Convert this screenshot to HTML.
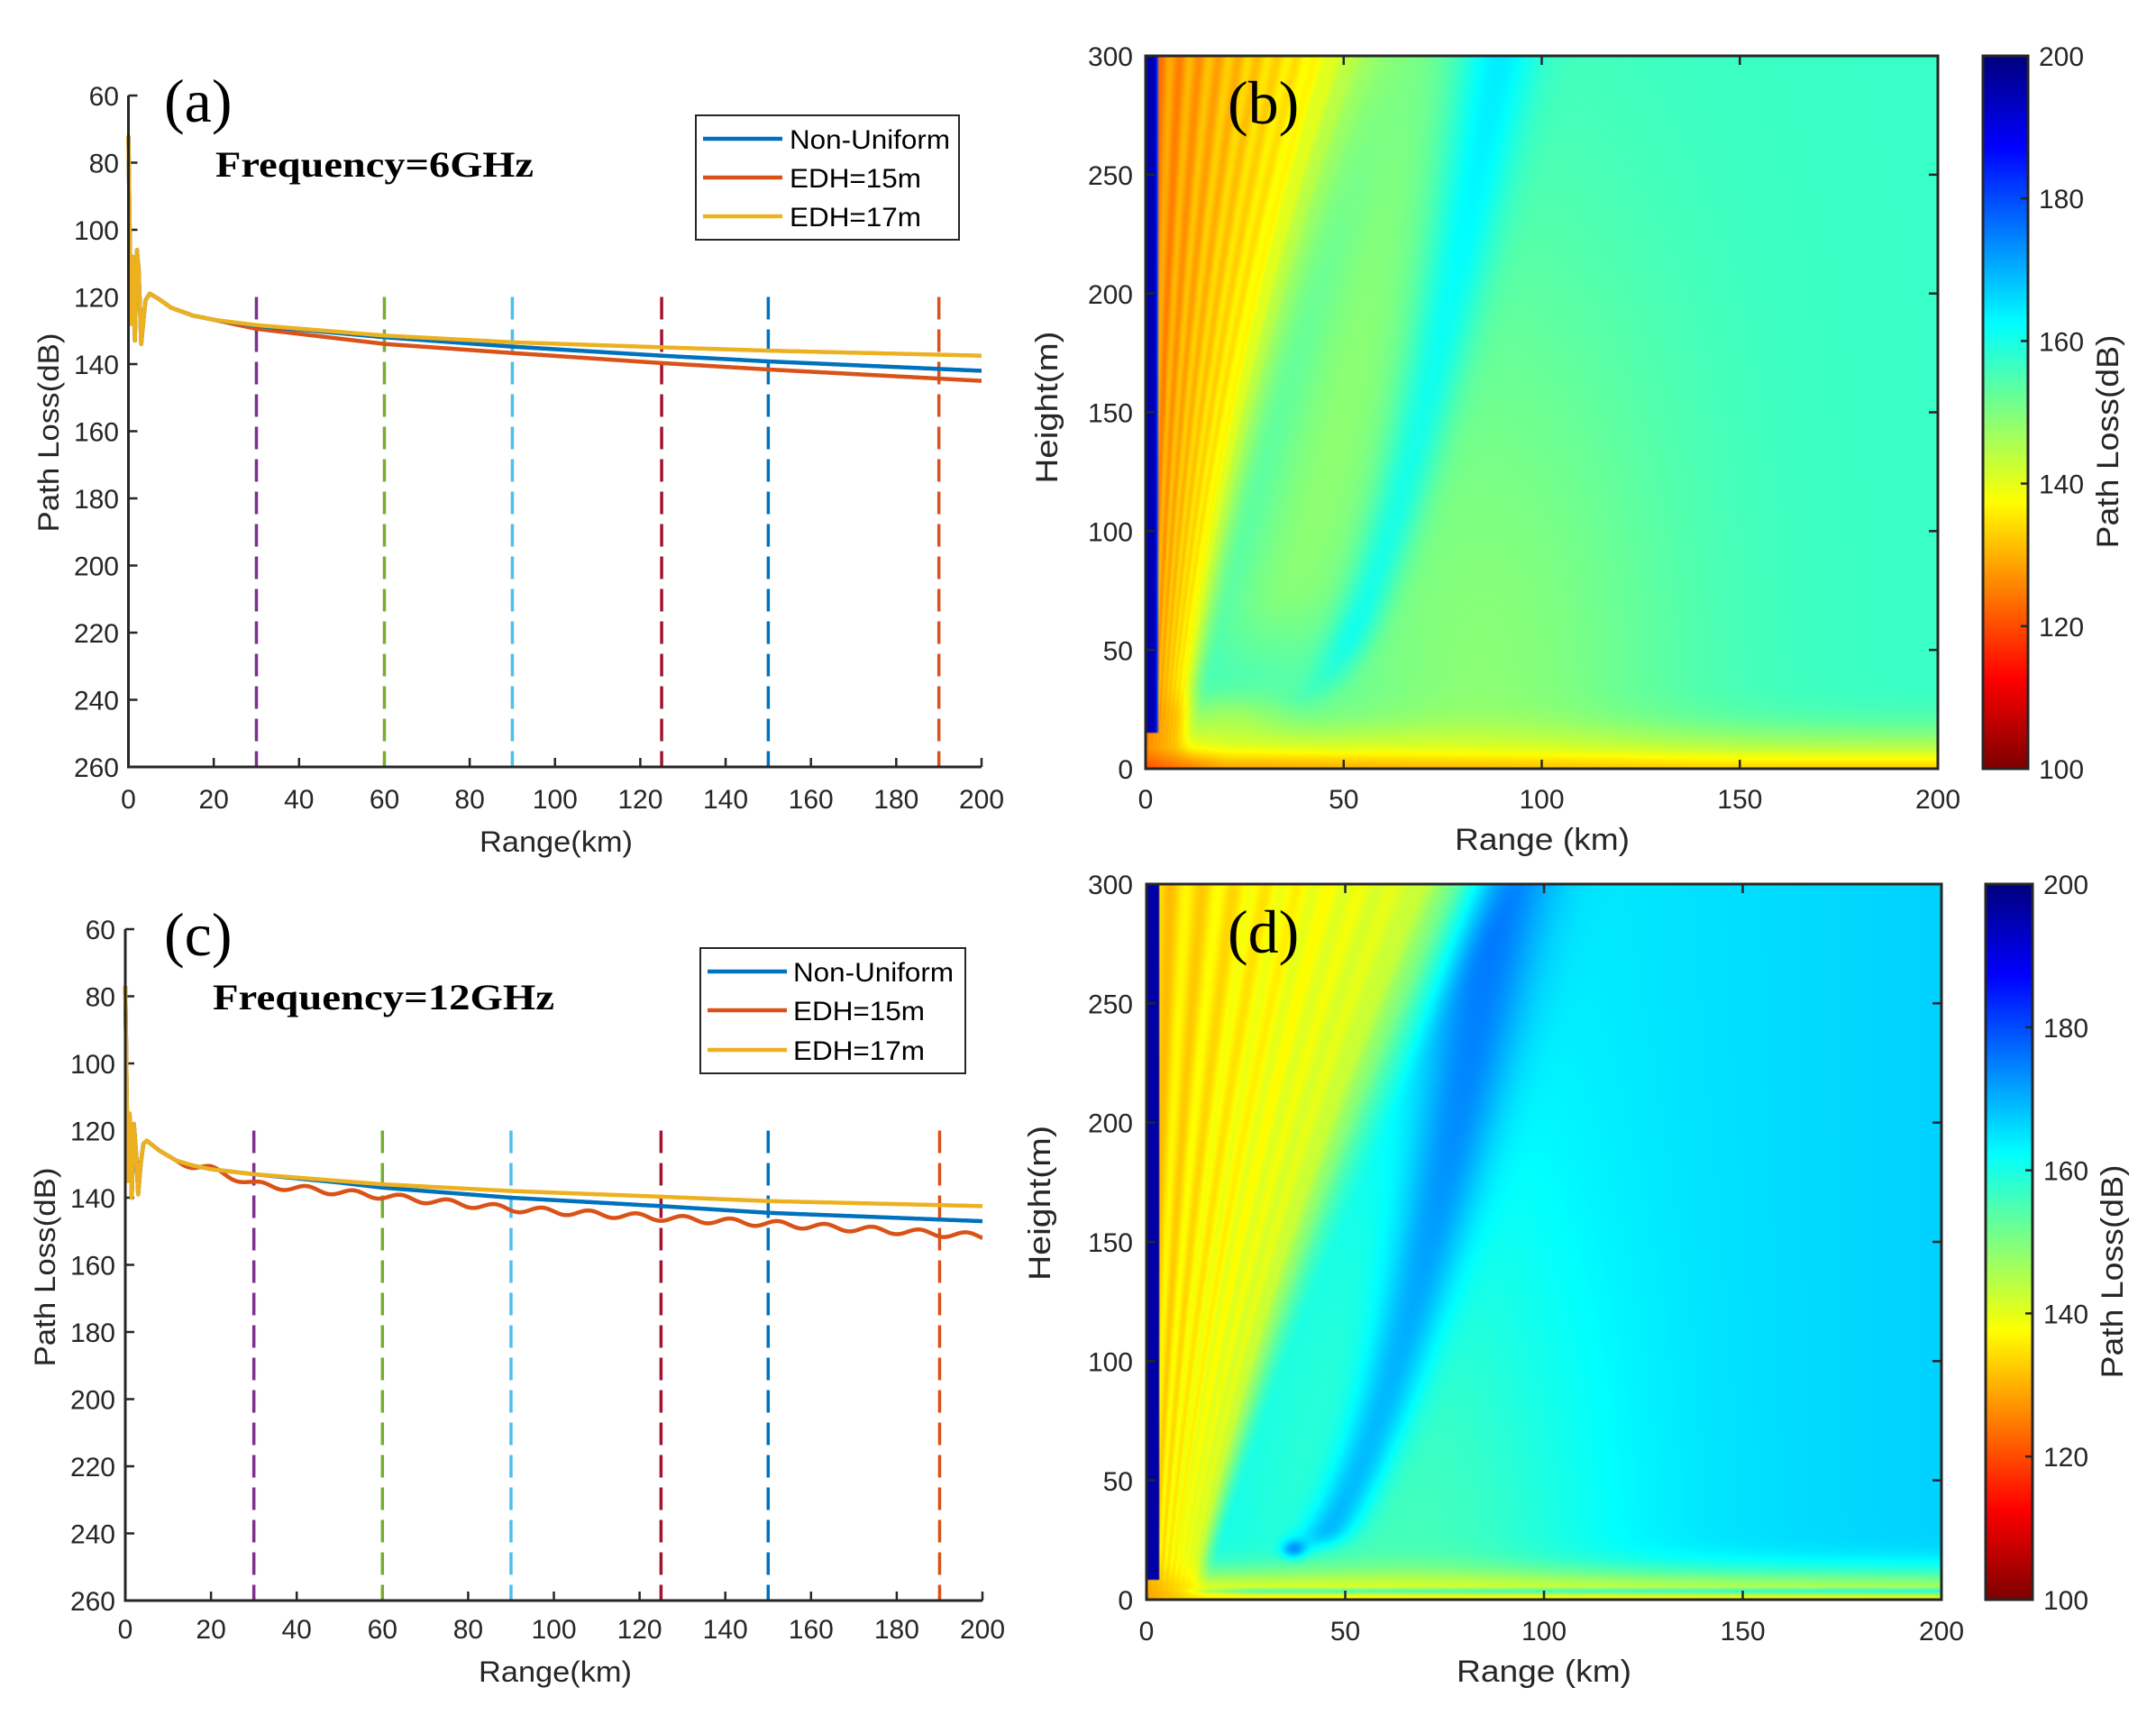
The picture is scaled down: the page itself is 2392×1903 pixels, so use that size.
<!DOCTYPE html>
<html><head><meta charset="utf-8">
<style>
html,body{margin:0;padding:0;background:#fff;}
#wrap{position:relative;width:2392px;height:1903px;overflow:hidden;background:#fff;}
canvas{position:absolute;}
svg{position:absolute;left:0;top:0;}
text{font-family:"Liberation Sans",Arial,sans-serif;fill:#262626;}
.t{font-size:30px;}
.ti{font-family:"Liberation Serif","Times New Roman",serif;fill:#000;}
</style></head><body>
<div id="wrap">
<canvas id="cb" width="440" height="396" style="left:1271px;top:62px;width:879px;height:791px;"></canvas>
<canvas id="cd" width="440" height="397" style="left:1272px;top:981px;width:882px;height:794px;"></canvas>
<canvas id="cbb" width="1" height="200" style="left:2200px;top:62px;width:50px;height:791px;"></canvas>
<canvas id="cbd" width="1" height="200" style="left:2203px;top:981px;width:52px;height:794px;"></canvas>
<svg width="2392" height="1903" viewBox="0 0 2392 1903" id="sv">
<g id="dyn"></g>
<g stroke="#262626" stroke-width="3" fill="none">
<path d="M142.5,106 V851 H1089"/>
<path d="M1271,62 H2150 V853 H1271 Z"/>
<path d="M2200,62 H2250 V853 H2200 Z"/>
<path d="M139,1031 V1776 H1090"/>
<path d="M1272,981 H2154 V1775 H1272 Z"/>
<path d="M2203,981 H2255 V1775 H2203 Z"/>
</g>
<g class="t" text-anchor="end">
<text x="132" y="117">60</text><text x="132" y="191.5">80</text><text x="132" y="266">100</text><text x="132" y="340.5">120</text><text x="132" y="415">140</text><text x="132" y="489.5">160</text><text x="132" y="564">180</text><text x="132" y="638.5">200</text><text x="132" y="713">220</text><text x="132" y="787.5">240</text><text x="132" y="862">260</text>
</g>
<g class="t" text-anchor="middle">
<text x="142.5" y="897">0</text><text x="237.2" y="897">20</text><text x="331.8" y="897">40</text><text x="426.5" y="897">60</text><text x="521.1" y="897">80</text><text x="615.8" y="897">100</text><text x="710.4" y="897">120</text><text x="805" y="897">140</text><text x="899.7" y="897">160</text><text x="994.3" y="897">180</text><text x="1089" y="897">200</text>
</g>
<text x="617" y="945" font-size="32" text-anchor="middle" textLength="170" lengthAdjust="spacingAndGlyphs">Range(km)</text>
<text transform="translate(65,480) rotate(-90)" font-size="32" text-anchor="middle" textLength="221" lengthAdjust="spacingAndGlyphs">Path Loss(dB)</text>
<text class="ti" x="182" y="135" font-size="68">(a)</text>
<text class="ti" x="239" y="196" font-size="40" font-weight="bold" textLength="353" lengthAdjust="spacingAndGlyphs">Frequency=6GHz</text>
<rect x="772" y="128" width="292" height="138" fill="#fff" stroke="#262626" stroke-width="2"/>
<line x1="780" y1="154" x2="868" y2="154" stroke="#0072BD" stroke-width="4.5"/>
<line x1="780" y1="197" x2="868" y2="197" stroke="#D95319" stroke-width="4.5"/>
<line x1="780" y1="240" x2="868" y2="240" stroke="#EDB120" stroke-width="4.5"/>
<g font-size="30">
<text x="876" y="165" textLength="178" lengthAdjust="spacingAndGlyphs" style="fill:#000">Non-Uniform</text>
<text x="876" y="208" textLength="146" lengthAdjust="spacingAndGlyphs" style="fill:#000">EDH=15m</text>
<text x="876" y="251" textLength="146" lengthAdjust="spacingAndGlyphs" style="fill:#000">EDH=17m</text>
</g>
<g class="t" text-anchor="end">
<text x="128" y="1042">60</text><text x="128" y="1116.5">80</text><text x="128" y="1191">100</text><text x="128" y="1265.5">120</text><text x="128" y="1340">140</text><text x="128" y="1414.5">160</text><text x="128" y="1489">180</text><text x="128" y="1563.5">200</text><text x="128" y="1638">220</text><text x="128" y="1712.5">240</text><text x="128" y="1787">260</text>
</g>
<g class="t" text-anchor="middle">
<text x="139" y="1818">0</text><text x="234.1" y="1818">20</text><text x="329.2" y="1818">40</text><text x="424.3" y="1818">60</text><text x="519.4" y="1818">80</text><text x="614.5" y="1818">100</text><text x="709.6" y="1818">120</text><text x="804.7" y="1818">140</text><text x="899.8" y="1818">160</text><text x="994.9" y="1818">180</text><text x="1090" y="1818">200</text>
</g>
<text x="616" y="1866" font-size="32" text-anchor="middle" textLength="170" lengthAdjust="spacingAndGlyphs">Range(km)</text>
<text transform="translate(61,1406) rotate(-90)" font-size="32" text-anchor="middle" textLength="221" lengthAdjust="spacingAndGlyphs">Path Loss(dB)</text>
<text class="ti" x="182" y="1060" font-size="68">(c)</text>
<text class="ti" x="236" y="1120" font-size="40" font-weight="bold" textLength="379" lengthAdjust="spacingAndGlyphs">Frequency=12GHz</text>
<rect x="777" y="1052" width="294" height="139" fill="#fff" stroke="#262626" stroke-width="2"/>
<line x1="785" y1="1078" x2="873" y2="1078" stroke="#0072BD" stroke-width="4.5"/>
<line x1="785" y1="1121" x2="873" y2="1121" stroke="#D95319" stroke-width="4.5"/>
<line x1="785" y1="1165" x2="873" y2="1165" stroke="#EDB120" stroke-width="4.5"/>
<g font-size="30">
<text x="880" y="1089" textLength="178" lengthAdjust="spacingAndGlyphs" style="fill:#000">Non-Uniform</text>
<text x="880" y="1132" textLength="146" lengthAdjust="spacingAndGlyphs" style="fill:#000">EDH=15m</text>
<text x="880" y="1176" textLength="146" lengthAdjust="spacingAndGlyphs" style="fill:#000">EDH=17m</text>
</g>
<g class="t" text-anchor="end">
<text x="1257" y="73">300</text><text x="1257" y="205">250</text><text x="1257" y="337">200</text><text x="1257" y="468.5">150</text><text x="1257" y="600.5">100</text><text x="1257" y="732.5">50</text><text x="1257" y="864">0</text>
</g>
<g class="t" text-anchor="middle">
<text x="1271" y="897">0</text><text x="1490.8" y="897">50</text><text x="1710.5" y="897">100</text><text x="1930.3" y="897">150</text><text x="2150" y="897">200</text>
</g>
<g class="t">
<text x="2262" y="73">200</text><text x="2262" y="231">180</text><text x="2262" y="389.5">160</text><text x="2262" y="547.5">140</text><text x="2262" y="706">120</text><text x="2262" y="864">100</text>
</g>
<text x="1711" y="943" font-size="34" text-anchor="middle" textLength="194" lengthAdjust="spacingAndGlyphs">Range (km)</text>
<text transform="translate(1173,452) rotate(-90)" font-size="34" text-anchor="middle" textLength="169" lengthAdjust="spacingAndGlyphs">Height(m)</text>
<text transform="translate(2350,490) rotate(-90)" font-size="34" text-anchor="middle" textLength="237" lengthAdjust="spacingAndGlyphs">Path Loss(dB)</text>
<text class="ti" x="1362" y="137" font-size="68">(b)</text>
<g class="t" text-anchor="end">
<text x="1257" y="992">300</text><text x="1257" y="1124.5">250</text><text x="1257" y="1256.5">200</text><text x="1257" y="1389">150</text><text x="1257" y="1521.5">100</text><text x="1257" y="1654">50</text><text x="1257" y="1786">0</text>
</g>
<g class="t" text-anchor="middle">
<text x="1272" y="1820">0</text><text x="1492.5" y="1820">50</text><text x="1713" y="1820">100</text><text x="1933.5" y="1820">150</text><text x="2154" y="1820">200</text>
</g>
<g class="t">
<text x="2267" y="992">200</text><text x="2267" y="1151">180</text><text x="2267" y="1309.5">160</text><text x="2267" y="1468.5">140</text><text x="2267" y="1627">120</text><text x="2267" y="1786">100</text>
</g>
<text x="1713" y="1866" font-size="34" text-anchor="middle" textLength="194" lengthAdjust="spacingAndGlyphs">Range (km)</text>
<text transform="translate(1165,1335) rotate(-90)" font-size="34" text-anchor="middle" textLength="172" lengthAdjust="spacingAndGlyphs">Height(m)</text>
<text transform="translate(2355,1411) rotate(-90)" font-size="34" text-anchor="middle" textLength="237" lengthAdjust="spacingAndGlyphs">Path Loss(dB)</text>
<text class="ti" x="1362" y="1057" font-size="68">(d)</text>
</svg>
</div>
<script>
function jet(s){s=Math.max(0,Math.min(1,s));var c=function(v){return Math.round(255*Math.max(0,Math.min(1,v)));};
return [c(1.5-Math.abs(4*s-3)),c(1.5-Math.abs(4*s-2)),c(1.5-Math.abs(4*s-1))];}
function col(v){return jet((200-v)/100);}
function sm(a,b,x){var t=Math.max(0,Math.min(1,(x-a)/(b-a)));return t*t*(3-2*t);}
function fb(r,h){
 var v=157-8*Math.exp(-Math.pow((r-85)/50,2))*Math.exp(-Math.pow(Math.max(0,h-30)/200,2));
 var rr=40+49*Math.pow(Math.max(0,h-30)/270,0.6);
 v+=9*Math.exp(-Math.pow((r-rr)/(5+h/60),2))*sm(15,60,h);
 v-=5*Math.exp(-Math.pow((r-(rr-22))/14,2))*sm(30,80,h);
 var rb=7+0.07*h+0.00017*h*h;
 var t=r/rb;
 if(t<1.7){var fan=125+12*t+3*Math.sin(55*t)*(1-t/1.7);var w=sm(0.9,1.7,t);v=fan*(1-w)+v*w;}
 var D=Math.exp(-Math.pow(h/16,2));
 var duct=(h<8?128+6*h/8:135)+Math.min(r,150)/30-(r<20?(20-r)/2.5:0);
 v=v*(1-D)+duct*D;
 var D2=Math.exp(-Math.pow((h-22)/10,2))*Math.exp(-Math.pow((r-20)/15,2));v-=6*D2;
 if(r<3.2&&h>15)v=195-(r>2.4?25*(r-2.4):0);
 return v;}
function fd(r,h){
 var v=162+5*r/200-8*Math.exp(-Math.pow((r-70)/45,2))*Math.exp(-Math.pow(h/180,2));
 if(h>=16){var rr=36+53*Math.pow((h-16)/284,0.55);
 v+=12*Math.exp(-Math.pow((r-rr)/(6+h/40),2))*sm(15,30,h);}
 v+=14*Math.exp(-Math.pow((r-37)/3,2)-Math.pow((h-21)/4,2));
 var rb=10+0.12*h+0.0002*h*h;var t=r/rb;
 if(t<1.5){var fan=133+8*t+3*Math.sin(50*t)*(1-t/1.5);var w=sm(1,1.5,t);v=fan*(1-w)+v*w;}
 var D=Math.exp(-Math.pow(h/12,2));
 var duct=136+Math.min(r,200)/40-(r<15?(15-r)/2:0);
 v=v*(1-D)+duct*D;
 v+=16*Math.exp(-Math.pow((h-3.5)/1.2,2))*sm(5,30,r);
 if(r<3.2&&h>8)v=196;
 return v;}
function draw(id,f,W,H){var c=document.getElementById(id),x=c.getContext('2d'),im=x.createImageData(W,H);
 for(var j=0;j<H;j++){var h=300*(1-(j+0.5)/H);for(var i=0;i<W;i++){var r=200*(i+0.5)/W;var cc=col(f(r,h));var k=4*(j*W+i);im.data[k]=cc[0];im.data[k+1]=cc[1];im.data[k+2]=cc[2];im.data[k+3]=255;}}
 x.putImageData(im,0,0);}
draw('cb',fb,440,396);draw('cd',fd,440,397);
function bar(id){var c=document.getElementById(id),x=c.getContext('2d'),im=x.createImageData(1,200);
 for(var j=0;j<200;j++){var cc=col(200-j*100/199);im.data[4*j]=cc[0];im.data[4*j+1]=cc[1];im.data[4*j+2]=cc[2];im.data[4*j+3]=255;}x.putImageData(im,0,0);}
bar('cbb');bar('cbd');
var NS='http://www.w3.org/2000/svg',dyn=document.getElementById('dyn');
function el(t,a){var e=document.createElementNS(NS,t);for(var k in a)e.setAttribute(k,a[k]);dyn.appendChild(e);return e;}
function interp(pts,r){for(var i=1;i<pts.length;i++){if(r<=pts[i][0]){var a=pts[i-1],b=pts[i];return a[1]+(b[1]-a[1])*(r-a[0])/(b[0]-a[0]);}}return pts[pts.length-1][1];}
function curve(ax,near,far,osc,color){
 var d='';var pts=near.concat(far);
 for(var r=0;r<=200;r+=0.1){var v=interp(pts,r);if(osc&&r>12)v+=osc*Math.sin(2*Math.PI*(r-12)/11);
 var X=ax.x0+r*ax.sx,Y=ax.y0+(v-60)*ax.sy;d+=(d?'L':'M')+X.toFixed(1)+','+Y.toFixed(1);}
 el('path',{d:d,fill:'none',stroke:color,'stroke-width':4.5,'stroke-linejoin':'round'});}
var A={x0:142.5,sx:4.7325,y0:106,sy:3.725},C={x0:139,sx:4.755,y0:1031,sy:3.725};
var nearA=[[0,72],[0.3,100],[0.6,128],[1,108],[1.5,133],[2,106],[2.4,112],[3,134],[3.5,127],[4,121],[5,119],[7,120.5],[10,123.2],[15,125.5],[20,126.8]];
var nearC=[[0,77],[0.3,105],[0.6,135],[1,115],[1.5,140],[2,118],[2.6,128],[3,139],[3.6,130],[4.2,124],[5,123],[8,126],[12,129],[16,130.5],[20,131.5]];
function dashes(ax,yb){var xs=[[30,'#7E2F8E'],[60,'#77AC30'],[90,'#4DBEEE'],[125,'#A2142F'],[150,'#0072BD'],[190,'#D95319']];
 xs.forEach(function(p){var X=ax.x0+p[0]*ax.sx;el('line',{x1:X,x2:X,y1:ax.y0+60*ax.sy,y2:yb,stroke:p[1],'stroke-width':3.5,'stroke-dasharray':'25,11'});});}
function ticks(ax,yb){for(var k=0;k<=10;k++){var X=ax.x0+k*20*ax.sx;el('line',{x1:X,x2:X,y1:yb,y2:yb-10,stroke:'#262626','stroke-width':2.5});
 var Y=ax.y0+k*20*ax.sy;el('line',{x1:ax.x0,x2:ax.x0+10,y1:Y,y2:Y,stroke:'#262626','stroke-width':2.5});}}
ticks(A,851);ticks(C,1776);
dashes(A,851);dashes(C,1776);
curve(A,nearA,[[30,129.5],[60,134],[90,136.7],[125,139.7],[150,141.6],[200,145]],0,'#D95319');
curve(A,nearA,[[30,128.6],[60,132],[90,134.8],[125,137.5],[150,139.2],[200,142]],0,'#0072BD');
curve(A,nearA,[[30,128.4],[60,131.5],[90,133.5],[125,135],[150,136],[200,137.5]],0,'#EDB120');
curve(C,nearC,[[30,136],[60,139.5],[90,143.3],[125,146],[150,147.7],[200,151.5]],0.9,'#D95319');
curve(C,nearC,[[30,133],[50,135.5],[60,137],[90,140],[125,142.5],[150,144.5],[200,147]],0,'#0072BD');
curve(C,nearC,[[30,133],[60,136],[90,138],[125,139.7],[150,141],[200,142.5]],0,'#EDB120');
function hticks(x0,x1,y0,y1,cbx){for(var k=0;k<=4;k++){var X=x0+k*(x1-x0)/4;el('line',{x1:X,x2:X,y1:y1,y2:y1-10,stroke:'#262626','stroke-width':2.5});el('line',{x1:X,x2:X,y1:y0,y2:y0+10,stroke:'#262626','stroke-width':2.5});}
 for(var k=0;k<=6;k++){var Y=y0+k*(y1-y0)/6;el('line',{x1:x0,x2:x0+10,y1:Y,y2:Y,stroke:'#262626','stroke-width':2.5});el('line',{x1:x1,x2:x1-10,y1:Y,y2:Y,stroke:'#262626','stroke-width':2.5});}
 for(var k=1;k<5;k++){var Y=y0+k*(y1-y0)/5;el('line',{x1:cbx,x2:cbx-8,y1:Y,y2:Y,stroke:'#262626','stroke-width':2.5});}}
hticks(1271,2150,62,853,2250);hticks(1272,2154,981,1775,2255);
</script>
</body></html>
